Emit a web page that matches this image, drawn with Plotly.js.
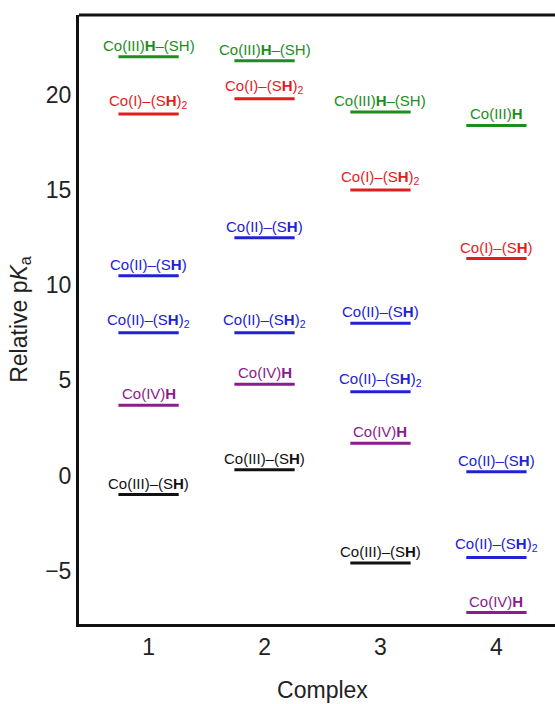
<!DOCTYPE html>
<html>
<head>
<meta charset="utf-8">
<script src="https://cdn.plot.ly/plotly-3.0.1.min.js"></script>
<style>html,body{margin:0;padding:0;overflow:hidden;background:#fff;width:555px;height:704px;}#chart{width:600px;height:704px;}</style>
</head>
<body>
<div id="chart"></div>
<script>
// Data
const complexIdx = [1,1,1,1,1,1, 2,2,2,2,2,2, 3,3,3,3,3,3, 4,4,4,4,4];
const pKa        = [22.0,19.0,10.5,7.5,3.7,-1.0,
                    21.8,19.8,12.5,7.5,4.8,0.3,
                    19.1,15.0,8.0,4.4,1.7,-4.6,
                    18.4,11.4,0.2,-4.3,-7.2];
const species    = ['Co(III)<b>H</b>–(SH)','Co(I)–(S<b>H</b>)<sub>2</sub>','Co(II)–(S<b>H</b>)','Co(II)–(S<b>H</b>)<sub>2</sub>','Co(IV)<b>H</b>','Co(III)–(S<b>H</b>)',
                    'Co(III)<b>H</b>–(SH)','Co(I)–(S<b>H</b>)<sub>2</sub>','Co(II)–(S<b>H</b>)','Co(II)–(S<b>H</b>)<sub>2</sub>','Co(IV)<b>H</b>','Co(III)–(S<b>H</b>)',
                    'Co(III)<b>H</b>–(SH)','Co(I)–(S<b>H</b>)<sub>2</sub>','Co(II)–(S<b>H</b>)','Co(II)–(S<b>H</b>)<sub>2</sub>','Co(IV)<b>H</b>','Co(III)–(S<b>H</b>)',
                    'Co(III)<b>H</b>','Co(I)–(S<b>H</b>)','Co(II)–(S<b>H</b>)','Co(II)–(S<b>H</b>)<sub>2</sub>','Co(IV)<b>H</b>'];
const kind       = ['hydride','coI','coII','coII','coIV','coIII',
                    'hydride','coI','coII','coII','coIV','coIII',
                    'hydride','coI','coII','coII','coIV','coIII',
                    'hydride','coI','coII','coII','coIV'];
const xTicks = [1,2,3,4];
const yTicks = [-5,0,5,10,15,20];

// Styles
const colors = {hydride:'#1E8C1E', coI:'#E01E1E', coII:'#2121D6', coIV:'#8B1C8B', coIII:'#111111'};
const halfW = 0.26;
const FONT = 'Liberation Sans, Arial, Helvetica, sans-serif';

const traces = [];
Object.keys(colors).forEach(k => {
  const xs = [], ys = [];
  complexIdx.forEach((c, i) => {
    if (kind[i] !== k) return;
    xs.push(c - halfW, c + halfW, null);
    ys.push(pKa[i], pKa[i], null);
  });
  traces.push({x: xs, y: ys, type: 'scatter', mode: 'lines',
    line: {color: colors[k], width: 3}, hoverinfo: 'skip', showlegend: false});
});

const annotations = complexIdx.map((c, i) => ({
  x: c, y: pKa[i], xref: 'x', yref: 'y', text: species[i], showarrow: false,
  xanchor: 'center', yanchor: 'bottom', yshift: 1,
  font: {family: FONT, size: 15, color: colors[kind[i]]}
}));

const layout = {
  width: 600, height: 704,
  margin: {l: 79, r: 34, t: 15, b: 80},
  paper_bgcolor: '#fff', plot_bgcolor: '#fff',
  font: {family: FONT, color: '#222'},
  showlegend: false,
  xaxis: {range: [0.4, 4.6], tickvals: xTicks, ticks: '', showgrid: false, zeroline: false,
    showline: true, linewidth: 3, linecolor: '#111', mirror: false,
    tickfont: {size: 23, color: '#222'},
    title: {text: 'Complex', font: {size: 23, color: '#222'}, standoff: 24}},
  yaxis: {range: [-7.8, 24.2], tickvals: yTicks, ticks: '', showgrid: false, zeroline: false,
    showline: true, linewidth: 3, linecolor: '#111', mirror: false,
    tickfont: {size: 23, color: '#222'},
    title: {text: 'Relative p<i>K</i><sub>a</sub>', font: {size: 23, color: '#222'}, standoff: 12}},
  shapes: [{type: 'line', xref: 'paper', yref: 'paper', x0: 0, x1: 1, y0: 1, y1: 1,
    line: {color: '#111', width: 3}}],
  annotations: annotations
};

Plotly.newPlot('chart', traces, layout, {displayModeBar: false, staticPlot: true});
</script>
</body>
</html>
